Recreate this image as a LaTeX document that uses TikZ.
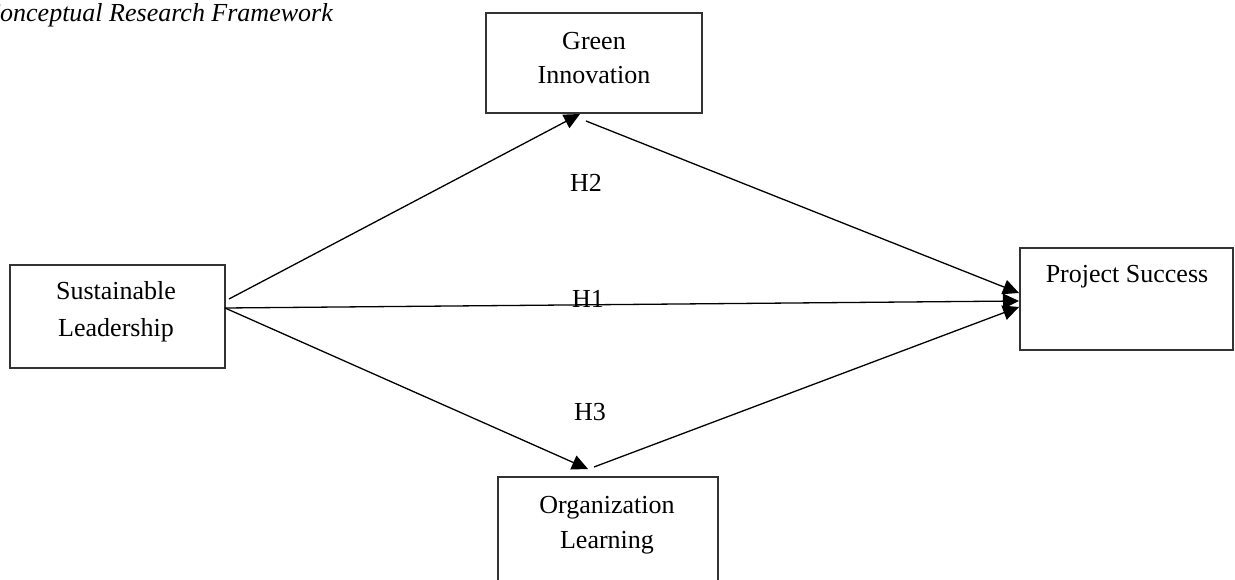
\documentclass[tikz,border=0pt]{standalone}
\usepackage{fontspec}
\setmainfont{Liberation Serif}
\usetikzlibrary{arrows.meta}
\begin{document}
\begin{tikzpicture}[x=1pt,y=-1pt,
  box/.style={draw=black!80, line width=1.3pt, inner sep=0pt},
  lbl/.style={font=\fontsize{26}{35}\selectfont, anchor=base, inner sep=0pt},
  conn/.style={line width=1.3pt, -{Triangle[length=16pt,width=15pt]}}]
\useasboundingbox (0,0) rectangle (1235,580);
% title
\node[lbl, anchor=base east, font=\fontsize{26}{35}\selectfont\itshape] (title) at (333,22) {Conceptual Research Framework};
% boxes
\node[box, minimum width=216pt, minimum height=100pt] (gi) at (594,63) {};
\node[box, minimum width=215pt, minimum height=103pt] (sl) at (117.5,316.5) {};
\node[box, minimum width=213pt, minimum height=102pt] (ps) at (1126.5,299) {};
\node[box, minimum width=220pt, minimum height=133pt] (ol) at (608,543.5) {};
% box texts
\node[lbl] (gi1) at (594,50) {Green};
\node[lbl] (gi2) at (594,84) {Innovation};
\node[lbl] (sl1) at (116,300) {Sustainable};
\node[lbl] (sl2) at (116,336) {Leadership};
\node[lbl] (ps1) at (1127,283) {Project Success};
\node[lbl] (ol1) at (607,513) {Organization};
\node[lbl] (ol2) at (607,548) {Learning};
% hypothesis labels
\node[lbl] (h2) at (586,192) {H2};
\node[lbl] (h1) at (588,308) {H1};
\node[lbl] (h3) at (590,420) {H3};
% connector end points
\coordinate (slA) at (229,299);
\coordinate (slB) at (225,308);
\coordinate (giIn) at (580,114);
\coordinate (giOut) at (586,121);
\coordinate (olIn) at (588,469);
\coordinate (olOut) at (594,467);
\coordinate (psA) at (1019,293);
\coordinate (psB) at (1019,301);
\coordinate (psC) at (1019,307);
% connectors
\draw[conn] (slA) -- (giIn);
\draw[conn] (giOut) -- (psA);
\draw[conn] (slB) -- (psB);
\draw[conn] (slB) -- (olIn);
\draw[conn] (olOut) -- (psC);
\end{tikzpicture}
\end{document}
